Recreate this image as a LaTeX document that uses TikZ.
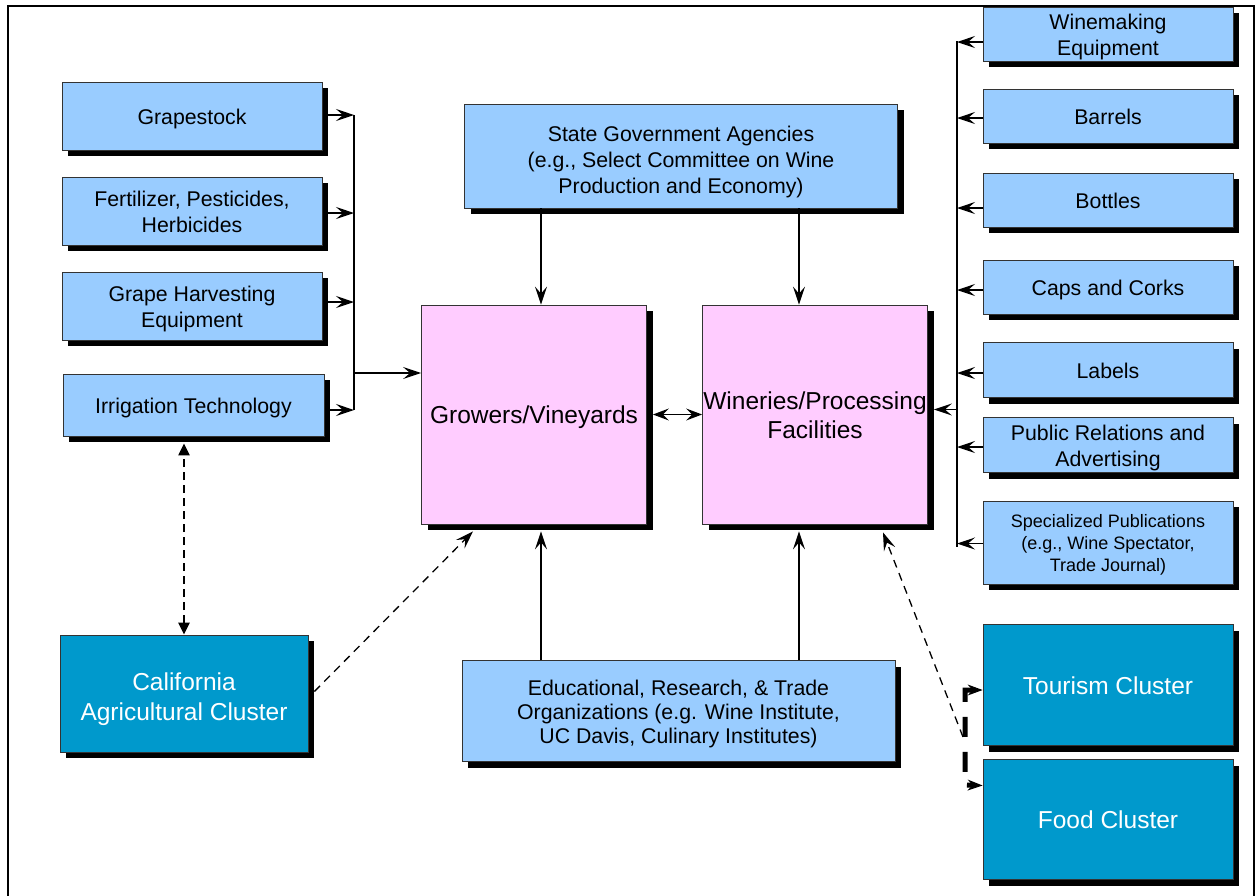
\documentclass[tikz,border=0pt]{standalone}
\usepackage{fontspec}
\setmainfont{Liberation Sans}
\usetikzlibrary{arrows.meta,shadows}

\definecolor{boxblue}{HTML}{99CCFF}
\definecolor{boxpink}{HTML}{FFCCFF}
\definecolor{boxteal}{HTML}{0099CC}
\definecolor{edgegray}{HTML}{333333}

% struts giving every text block the same line box
\newcommand{\topstrut}[1][0.99em]{\rule{0pt}{#1}}
\newcommand{\botstrut}{\rule[-0.22em]{0pt}{0pt}}

\tikzset{
  base/.style={rectangle, draw=edgegray, line width=0.8pt, align=center, inner sep=1pt,
    drop shadow={shadow xshift=6pt, shadow yshift=-6pt, fill=black, opacity=1}},
  bluebox/.style={base, fill=boxblue, font=\fontsize{21.3}{26}\selectfont},
  pinkbox/.style={base, fill=boxpink, font=\fontsize{24.5}{29.5}\selectfont},
  tealbox/.style={base, fill=boxteal, text=white, font=\fontsize{24.5}{30}\selectfont},
  arr/.style={-{Stealth[length=18pt,width=12pt,inset=7pt]}, line width=1.2pt},
  darr/.style={{Stealth[length=16pt,width=12pt,inset=6pt]}-{Stealth[length=16pt,width=12pt,inset=6pt]}, line width=1.3pt},
  dsarr/.style={-{Stealth[length=18pt,width=12pt,inset=7pt]}, line width=1.3pt, dash pattern=on 8pt off 6pt},
  ddarr/.style={{Triangle[length=12pt,width=11pt]}-{Triangle[length=12pt,width=11pt]}, line width=2.2pt, dash pattern=on 8pt off 5pt},
  brarr/.style={{Stealth[length=15pt,width=11pt,inset=5pt,line width=1pt]}-{Stealth[length=15pt,width=11pt,inset=5pt,line width=1pt]}, line width=5pt, dash pattern=on 20pt off 15pt},
}

\begin{document}
\begin{tikzpicture}[x=1pt,y=-1pt]
\useasboundingbox (0,0) rectangle (1259,895);
\clip (0,0) rectangle (1259,895);

% outer frame
\draw[line width=2.2pt] (8,900) -- (8,6) -- (1254,6) -- (1254,900);

% supplier boxes on the left
\node[bluebox, minimum width=260pt, minimum height=68pt] (grape) at (192,116) {\topstrut Grapestock\botstrut};
\node[bluebox, minimum width=260pt, minimum height=68pt] (fert)  at (192,211) {\topstrut Fertilizer, Pesticides,\\Herbicides\botstrut};
\node[bluebox, minimum width=260pt, minimum height=68pt] (harv)  at (192,306) {\topstrut Grape Harvesting\\Equipment\botstrut};
\node[bluebox, minimum width=261pt, minimum height=62pt] (irrig) at (193.5,405) {\topstrut Irrigation Technology\botstrut};

% central boxes
\node[bluebox, minimum width=433pt, minimum height=104pt] (state) at (681,156) {\topstrut[1.27em]State Government Agencies\\(e.g., Select Committee on Wine\\Production and Economy)\botstrut};
\node[pinkbox, minimum width=225pt, minimum height=219pt] (grow) at (534,414.5) {\topstrut Growers/Vineyards\botstrut};
\node[pinkbox, minimum width=225pt, minimum height=219pt, inner sep=0pt] (win) at (815,414.5) {\topstrut Wineries/Processing\\Facilities\botstrut};
\node[bluebox, minimum width=433pt, minimum height=101pt, font=\fontsize{21.3}{24}\selectfont] (edu) at (678.5,711) {\topstrut Educational, Research, \& Trade\\Organizations (e.g. Wine Institute,\\UC Davis, Culinary Institutes)\botstrut};

% related clusters
\node[tealbox, minimum width=248pt, minimum height=117pt] (cal) at (184,693.5) {\topstrut[1.23em]California\\Agricultural Cluster\botstrut};
\node[tealbox, minimum width=250pt, minimum height=121pt] (tour) at (1108,685) {\topstrut Tourism Cluster\botstrut};
\node[tealbox, minimum width=250pt, minimum height=120pt] (food) at (1108,819.5) {\topstrut Food Cluster\botstrut};

% supplier boxes on the right
\node[bluebox, minimum width=250pt, minimum height=54pt] (wme) at (1108,34) {\topstrut Winemaking\\Equipment\botstrut};
\node[bluebox, minimum width=250pt, minimum height=54pt] (barrel) at (1108,116) {\topstrut Barrels\botstrut};
\node[bluebox, minimum width=250pt, minimum height=54pt] (bottle) at (1108,200) {\topstrut Bottles\botstrut};
\node[bluebox, minimum width=250pt, minimum height=54pt] (cork) at (1108,287) {\topstrut Caps and Corks\botstrut};
\node[bluebox, minimum width=250pt, minimum height=55pt] (label) at (1108,370) {\topstrut Labels\botstrut};
\node[bluebox, minimum width=250pt, minimum height=55pt] (pr) at (1108,445) {\topstrut Public Relations and\\Advertising\botstrut};
\node[bluebox, minimum width=250pt, minimum height=83pt, font=\fontsize{18}{22}\selectfont] (pub) at (1108,542.5) {\topstrut Specialized Publications\\(e.g., Wine Spectator,\\Trade Journal)\botstrut};

% left bus
\coordinate (lb1) at (354,115);
\coordinate (lb2) at (354,213);
\coordinate (lb3) at (354,302);
\coordinate (lb4) at (354,410);
\coordinate (lbm) at (354,373);
\draw[line width=1.2pt] (lb1) -- (lb4);
\draw[arr, shorten <=6pt] (grape.east |- lb1) -- (lb1);
\draw[arr, shorten <=6pt] (fert.east |- lb2) -- (lb2);
\draw[arr, shorten <=6pt] (harv.east |- lb3) -- (lb3);
\draw[arr, shorten <=6pt] (irrig.east |- lb4) -- (lb4);
\draw[arr] (lbm) -- (lbm -| grow.west);

% government and education links
\coordinate (cg) at (541,0);
\coordinate (cw) at (799,0);
\draw[arr] (state.south -| cg) -- (grow.north -| cg);
\draw[arr] (state.south -| cw) -- (win.north -| cw);
\draw[arr, shorten >=7pt] (edu.north -| cg) -- (grow.south -| cg);
\draw[arr, shorten >=7pt] (edu.north -| cw) -- (win.south -| cw);

% growers <-> wineries
\draw[darr, shorten <=6pt] (grow.east) -- (win.west);

% right bus
\coordinate (rbx) at (957,0);
\coordinate (rb1) at (957,41);
\coordinate (rb7) at (957,547);
\draw[line width=1.2pt] (rb1) -- (rb7);
\draw[arr] ([yshift=-8pt]wme.west) -- ([yshift=-8pt]wme.west -| rbx);
\draw[arr] ([yshift=-2pt]barrel.west) -- ([yshift=-2pt]barrel.west -| rbx);
\draw[arr] ([yshift=-8pt]bottle.west) -- ([yshift=-8pt]bottle.west -| rbx);
\draw[arr] ([yshift=-3pt]cork.west) -- ([yshift=-3pt]cork.west -| rbx);
\draw[arr] ([yshift=-3pt]label.west) -- ([yshift=-3pt]label.west -| rbx);
\draw[arr] ([yshift=-2pt]pr.west) -- ([yshift=-2pt]pr.west -| rbx);
\draw[arr] ([yshift=-1pt]pub.west) -- ([yshift=-1pt]pub.west -| rbx);
\draw[arr, shorten >=6pt] ([yshift=5pt]win.east -| rbx) -- ([yshift=5pt]win.east);

% dashed cluster links
\draw[ddarr, shorten >=7pt] (cal.north) -- (cal.north |- irrig.south);
\draw[dsarr] ([xshift=6pt,yshift=2pt]cal.east) -- ([xshift=-61pt,yshift=-7pt]grow.south);
\coordinate (brA) at (965,690);
\coordinate (brB) at (965,785);
\draw[brarr] ([yshift=-5pt]tour.west) -- (brA) -- (brB) -- ([yshift=34pt]food.west);
\coordinate (brC) at (963,737);
\draw[dsarr] (brC) -- ([xshift=68pt,yshift=-8pt]win.south);
\end{tikzpicture}
\end{document}
